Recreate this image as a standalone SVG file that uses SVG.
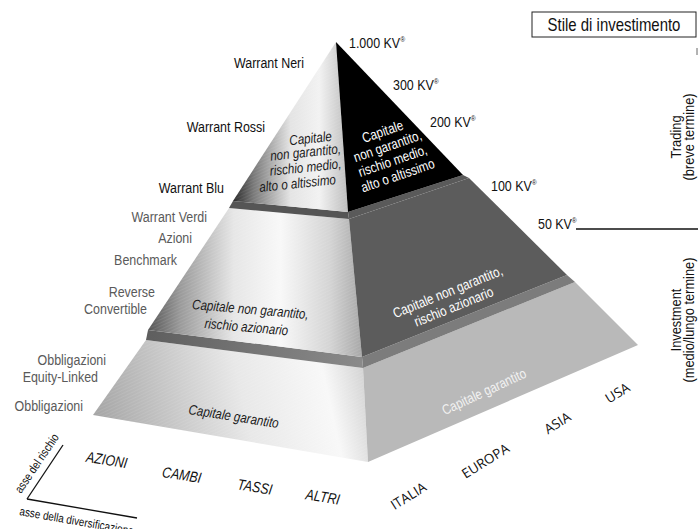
<svg xmlns="http://www.w3.org/2000/svg" width="698" height="529" viewBox="0 0 698 529">
<style>
.n{font-family:"Liberation Sans","Arimo",Arial,sans-serif}
.lab{font-size:15px;fill:#111}
.gl{font-size:15px;fill:#5a5a5a}
.kv{font-size:15px;fill:#111}
.it{font-style:italic}
.in{font-size:14px}
.wh{fill:#fff}
.dk{fill:#1a1a1a}
.cat{font-size:15px;fill:#111;font-style:italic}
.geo{font-family:"Open Sans","Noto Sans",sans-serif;font-size:13.5px;fill:#111}
.vt{font-size:15.5px;fill:#111}
.ax{font-size:12px;fill:#111}
.ln{stroke:#111;stroke-width:1.3;fill:none}
</style>
<defs>
<linearGradient id="gTop" gradientUnits="userSpaceOnUse" x1="233" y1="0" x2="348" y2="0">
<stop offset="0" stop-color="#2a2a2a"/><stop offset="0.18" stop-color="#7a7a7a"/><stop offset="0.5" stop-color="#e4e4e4"/><stop offset="0.75" stop-color="#f2f2f2"/><stop offset="1" stop-color="#bdbdbd"/>
</linearGradient>
<linearGradient id="gMid" gradientUnits="userSpaceOnUse" x1="148" y1="0" x2="362" y2="0">
<stop offset="0" stop-color="#555"/><stop offset="0.15" stop-color="#9a9a9a"/><stop offset="0.4" stop-color="#e6e6e6"/><stop offset="0.62" stop-color="#f8f8f8"/><stop offset="0.85" stop-color="#d4d4d4"/><stop offset="1" stop-color="#a8a8a8"/>
</linearGradient>
<linearGradient id="gBot" gradientUnits="userSpaceOnUse" x1="93" y1="440" x2="368" y2="380">
<stop offset="0" stop-color="#a2a2a2"/><stop offset="0.55" stop-color="#e8e8e8"/><stop offset="0.85" stop-color="#f8f8f8"/><stop offset="1" stop-color="#d2d2d2"/>
</linearGradient>
<linearGradient id="gBand" gradientUnits="userSpaceOnUse" x1="146" y1="0" x2="363" y2="0">
<stop offset="0" stop-color="#5e5e5e"/><stop offset="0.6" stop-color="#7a7a7a"/><stop offset="1" stop-color="#8a8a8a"/>
</linearGradient>
<pattern id="hatch" patternUnits="userSpaceOnUse" width="3" height="3" patternTransform="rotate(65)">
<line x1="0" y1="0" x2="0" y2="3" stroke="#fff" stroke-width="0.8" stroke-opacity="0.35"/>
</pattern>
</defs>

<g id="connectors">
<line class="ln" x1="576" y1="229" x2="698" y2="229"/>
<line class="ln" x1="27" y1="499" x2="63" y2="445"/>
<line class="ln" x1="27" y1="499" x2="137" y2="518"/>
<line x1="697" y1="48" x2="697" y2="55" stroke="#666" stroke-width="1"/>
</g>

<g id="layer-bottom">
<polygon points="146,340 363,368 368,462 93,415" fill="url(#gBot)"/>
<polygon points="146,340 363,368 368,462 93,415" fill="url(#hatch)" opacity="0.6"/>
<polygon points="363,368 575,282 638,345 368,462" fill="#b9b9b9"/>
<polygon points="148,330 362,357 363,368 146,340" fill="url(#gBand)"/>
<polygon points="362,357 567,275 575,282 363,368" fill="#7c7c7c"/>
<text class="n in it dk" transform="translate(233,421) rotate(9) scale(0.83,1)" text-anchor="middle">Capitale garantito</text>
<text class="n in" fill="#f2f2f2" transform="translate(486,396) rotate(-25) scale(0.83,1)" text-anchor="middle">Capitale garantito</text>
</g>

<g id="layer-middle">
<polygon points="229,208 349,219 362,357 148,330" fill="url(#gMid)"/>
<polygon points="229,208 349,219 362,357 148,330" fill="url(#hatch)" opacity="0.6"/>
<polygon points="349,219 469,178 567,275 362,357" fill="#5c5c5c"/>
<polygon points="233,201 348,212 349,219 229,208" fill="#555"/>
<polygon points="348,212 463,175 469,178 349,219" fill="#5a5a5a"/>
<g class="n in it dk" transform="translate(250,314) rotate(5) scale(0.83,1)" text-anchor="middle">
<text x="0" y="0">Capitale non garantito,</text>
<text x="-3" y="18">rischio azionario</text>
</g>
<g class="n in wh" transform="translate(451,300) rotate(-22) scale(0.83,1)" text-anchor="middle">
<text x="0" y="-4">Capitale non garantito,</text>
<text x="0" y="12">rischio azionario</text>
</g>
</g>

<g id="layer-top">
<polygon points="336,42 233,201 348,212" fill="url(#gTop)"/>
<polygon points="336,42 233,201 348,212" fill="url(#hatch)" opacity="0.5"/>
<polygon points="336,42 348,212 463,175" fill="#000"/>
<g class="n in it dk" text-anchor="middle">
<text transform="translate(311,143) rotate(-6) scale(0.83,1)">Capitale</text>
<text transform="translate(306,157) rotate(-6) scale(0.83,1)">non garantito,</text>
<text transform="translate(306,172) rotate(-6) scale(0.83,1)">rischio medio,</text>
<text transform="translate(298,188) rotate(-6) scale(0.83,1)">alto o altissimo</text>
</g>
<g class="n in wh" transform="translate(390,153) rotate(-19) scale(0.83,1)" text-anchor="middle">
<text x="0" y="-18">Capitale</text>
<text x="0" y="-2.5">non garantito,</text>
<text x="0" y="13">rischio medio,</text>
<text x="0" y="28.5">alto o altissimo</text>
</g>
</g>

<g id="labels-left" class="n" text-anchor="end">
<text class="lab" transform="translate(304,68) scale(0.83,1)">Warrant Neri</text>
<text class="lab" transform="translate(265,132) scale(0.83,1)">Warrant Rossi</text>
<text class="lab" transform="translate(224,193) scale(0.83,1)">Warrant Blu</text>
<text class="gl" transform="translate(207,222) scale(0.83,1)">Warrant Verdi</text>
<text class="gl" transform="translate(192,243) scale(0.83,1)">Azioni</text>
<text class="gl" transform="translate(177,265) scale(0.83,1)">Benchmark</text>
<text class="gl" transform="translate(155,297) scale(0.83,1)">Reverse</text>
<text class="gl" transform="translate(147,314) scale(0.83,1)">Convertible</text>
<text class="gl" transform="translate(106,365) scale(0.83,1)">Obbligazioni</text>
<text class="gl" transform="translate(98,382) scale(0.83,1)">Equity-Linked</text>
<text class="gl" transform="translate(83,411) scale(0.83,1)">Obbligazioni</text>
</g>

<g id="labels-kv" class="n kv">
<text transform="translate(349,48) scale(0.83,1)">1.000 KV<tspan font-size="8" dy="-6">®</tspan></text>
<text transform="translate(393,90) scale(0.83,1)">300 KV<tspan font-size="8" dy="-6">®</tspan></text>
<text transform="translate(430,127) scale(0.83,1)">200 KV<tspan font-size="8" dy="-6">®</tspan></text>
<text transform="translate(491,191) scale(0.83,1)">100 KV<tspan font-size="8" dy="-6">®</tspan></text>
<text transform="translate(538,229) scale(0.83,1)">50 KV<tspan font-size="8" dy="-6">®</tspan></text>
</g>

<g id="style-box">
<rect x="532" y="12" width="164" height="25" fill="#fff" stroke="#222" stroke-width="1"/>
<text class="n" transform="translate(614,31) scale(0.83,1)" font-size="18" fill="#111" text-anchor="middle">Stile di investimento</text>
</g>

<g id="style-trading" class="n vt" text-anchor="middle">
<text transform="translate(681,137) rotate(-90) scale(0.83,1)">Trading</text>
<text transform="translate(694,137) rotate(-90) scale(0.83,1)">(breve termine)</text>
</g>
<g id="style-investment" class="n vt" text-anchor="middle">
<text transform="translate(681,320) rotate(-90) scale(0.83,1)">Investment</text>
<text transform="translate(694,320) rotate(-90) scale(0.83,1)">(medio/lungo termine)</text>
</g>

<g id="axis-categories" class="n cat" text-anchor="middle">
<text transform="translate(106,465) rotate(9) scale(0.83,1)">AZIONI</text>
<text transform="translate(181,480) rotate(9) scale(0.83,1)">CAMBI</text>
<text transform="translate(254,492) rotate(9) scale(0.83,1)">TASSI</text>
<text transform="translate(322,502) rotate(9) scale(0.83,1)">ALTRI</text>
</g>

<g id="axis-markets" class="geo" text-anchor="middle">
<text transform="translate(411,500) rotate(-32)">ITALIA</text>
<text transform="translate(488,465) rotate(-32)">EUROPA</text>
<text transform="translate(560,427) rotate(-32)">ASIA</text>
<text transform="translate(620,397) rotate(-32)">USA</text>
</g>

<g id="axis-labels" class="n ax">
<text transform="translate(21,494) rotate(-56) scale(0.83,1)">asse del rischio</text>
<text transform="translate(19,515) rotate(10) scale(0.83,1)">asse della diversificazione</text>
</g>
</svg>
